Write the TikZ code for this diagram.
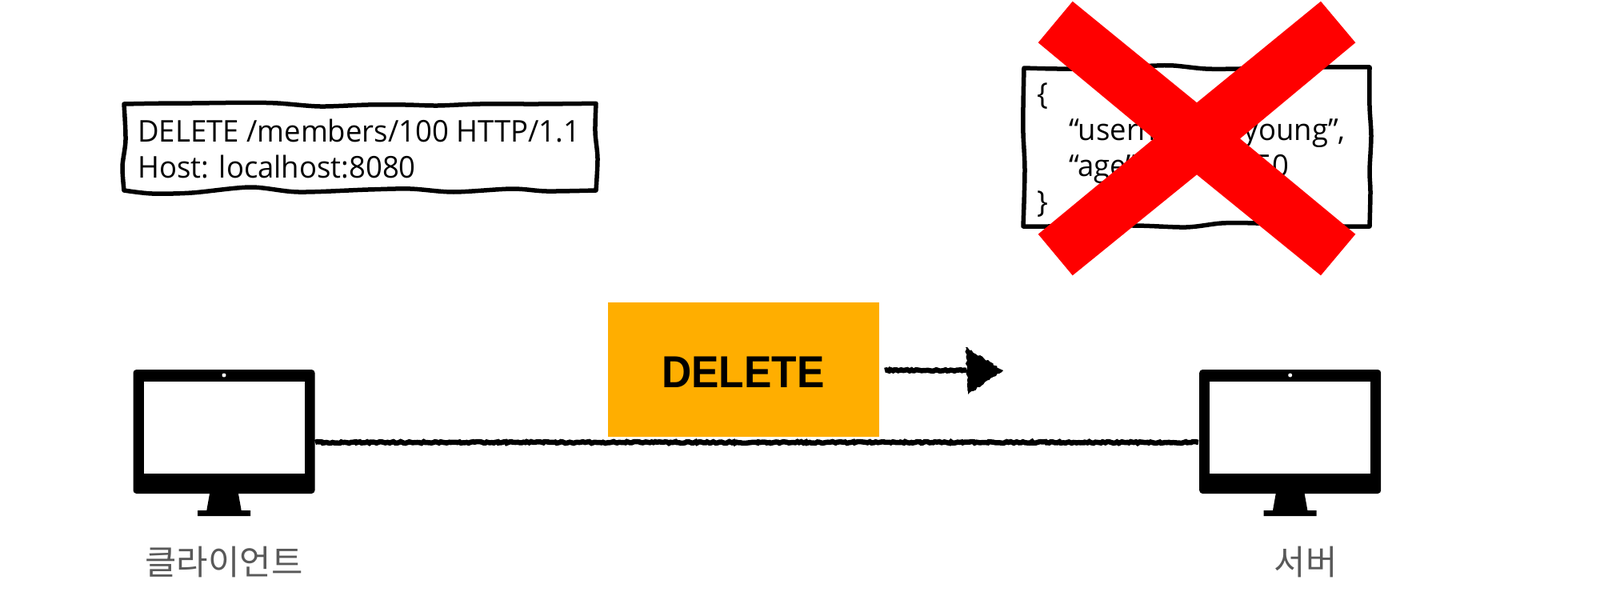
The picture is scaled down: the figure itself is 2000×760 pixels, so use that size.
\documentclass[tikz,border=0pt]{standalone}
\usepackage{fontspec}
\setmainfont{Open Sans}
\newfontfamily\krfont{Noto Sans CJK KR}
\newfontfamily\labelfont{Liberation Sans}
\usetikzlibrary{decorations.pathmorphing}
\definecolor{methodorange}{HTML}{FFAE00}
\definecolor{labelgrey}{HTML}{595959}
\begin{document}
\begin{tikzpicture}[x=1pt,y=-1pt]

    \tikzset{
      sketchbox/.style={
        draw=black,
        line width=5.5pt,
        line join=round,
        line cap=round,
      },
      msgtext/.style={
        inner sep=0pt,
        anchor=north west,
        align=left,
        xscale=.973,
        font=\fontsize{37.5}{45}\selectfont,
      },
      monitor/.style={
        fill=black,
        rounded corners=4pt,
        inner sep=0pt,
        minimum width=227pt,
        minimum height=155pt,
      },
      screen/.style={
        fill=white,
        inner sep=0pt,
        minimum width=201pt,
        minimum height=115pt,
      },
      camera/.style={
        circle,
        fill=white,
        inner sep=0pt,
        minimum size=5pt,
      },
      hostlabel/.style={
        anchor=base,
        inner sep=0pt,
        text=labelgrey,
        font=\krfont\fontsize{42.8}{42.8}\selectfont,
      },
      roughline/.style={
        draw=black,
        line width=6.5pt,
        decorate,
        decoration={random steps,segment length=2.5pt,amplitude=1pt},
      },
    }
    \useasboundingbox (0,0) rectangle (2000,760);

    % request message
    \draw[sketchbox] plot[smooth,tension=.5] coordinates {(155,130) (193,129.3) (240,129) (307,128.3) (347,129) (400,133) (460,131) (507,131) (547,132) (600,130) (673,130) (745,129.3)}
        -- plot[smooth,tension=.5] coordinates {(745,129.3) (744,165) (747,198) (745,238)}
        -- plot[smooth,tension=.5] coordinates {(745,238) (683,239) (640,236) (567,240) (513,236) (460,237) (373,240) (313,234) (240,241) (190,242) (155,238)}
        -- plot[smooth,tension=.5] coordinates {(155,238) (153,208) (157,175) (155,130)};
    \node[msgtext] (request) at (172,149) {DELETE /members/100 HTTP/1.1\\Host: localhost:8080};

    % response body, crossed out
    \draw[sketchbox] plot[smooth,tension=.5] coordinates {(1280,85) (1340,86) (1437,82.3) (1467,82) (1507,86) (1550,86) (1653,84) (1712,84)}
        -- plot[smooth,tension=.5] coordinates {(1712,84) (1712,133) (1714,170) (1712,213) (1713,240) (1712,283)}
        -- plot[smooth,tension=.5] coordinates {(1712,283) (1680,283) (1570,279) (1527,279) (1483,284) (1417,282) (1310,283) (1279,283)}
        -- plot[smooth,tension=.5] coordinates {(1279,283) (1281,213) (1279,167) (1279,133) (1280,85)};
    \node[msgtext] (body) at (1296,104) {\{\\\hspace*{41pt}“username”:”young”,\\\hspace*{41pt}\makebox[240pt][l]{“age”:}50\\\}};
    \fill[red] (1340.7,1.7)--(1496,128.3)--(1651,1.7)--(1694.3,53.3)--(1550,173.3)--(1694.3,292.7)--(1651,344.3)--(1496,218.3)--(1340.7,344.3)--(1297.7,292.7)--(1442.3,173.3)--(1297.7,53.3)--cycle;

    % client and server
    \foreach \hostname/\hostx/\labelx/\hosttext in {client/280/280/클라이언트,server/1612.7/1632/서버}{
      \fill[black] (\hostx-16.7,610)--(\hostx+16.7,610)--(\hostx+21.7,638)--(\hostx+33,638)--(\hostx+33,645)--(\hostx-33,645)--(\hostx-33,638)--(\hostx-21.7,638)--cycle;
      \node[monitor] (\hostname) at (\hostx,539.5) {};
      \node[screen] (\hostname screen) at (\hostx,534) {};
      \node[camera] (\hostname camera) at (\hostx,469) {};
      \node[hostlabel] (\hostname label) at (\labelx,718) {\hosttext};
    }

    % connection between the hosts
    \coordinate (clientport) at (394,553);
    \coordinate (serverport) at (1498,553);
    \draw[roughline] (clientport) -- (serverport);

    % method badge and its direction
    \node[fill=methodorange,inner sep=0pt,minimum width=339pt,minimum height=168pt] (method) at (929,462) {};
    \node[xscale=.92,inner sep=0pt,font=\labelfont\bfseries\fontsize{56}{56}\selectfont] (methodname) at (929,465) {DELETE};
    \coordinate (arrowstart) at (1106,463);
    \coordinate (arrowend) at (1208,463);
    \draw[roughline] (arrowstart) -- (arrowend);
    \fill[black,decorate,decoration={random steps,segment length=3pt,amplitude=1.2pt}] (1207,434)--(1254,463)--(1210,493)--cycle;

\end{tikzpicture}
\end{document}
